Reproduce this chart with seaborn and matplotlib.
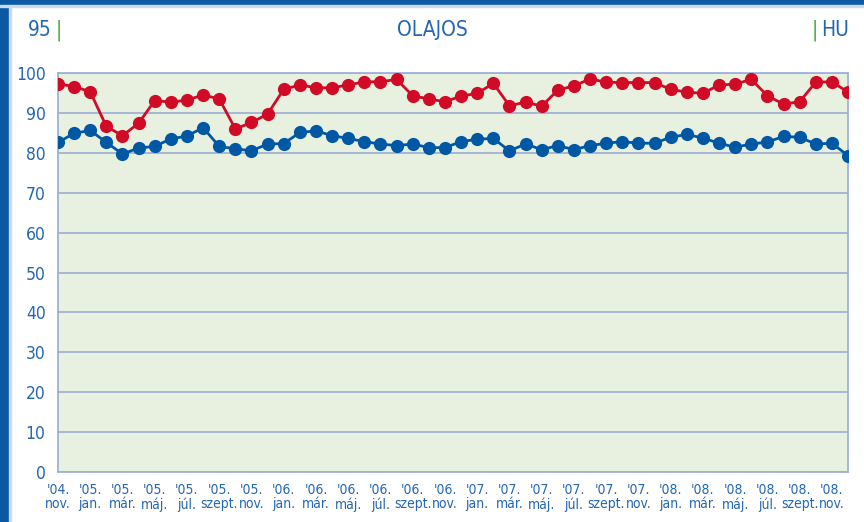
import numpy as np
import pandas as pd
import matplotlib
matplotlib.use("Agg")
import matplotlib.pyplot as plt
from matplotlib.patches import Rectangle
import seaborn as sns

# havi adatok, '04 nov. - '08 dec.
red_values = [97.3, 96.6, 95.3, 86.6, 84.3, 87.4, 93.1, 92.7, 93.2, 94.5,
              93.5, 86.0, 87.6, 89.7, 95.9, 97.0, 96.3, 96.3, 97.0, 97.8,
              97.8, 98.4, 94.3, 93.5, 92.8, 94.2, 94.9, 97.4, 91.8, 92.7,
              91.7, 95.7, 96.8, 98.5, 97.7, 97.6, 97.6, 97.6, 95.9, 95.2,
              94.9, 97.0, 97.2, 98.4, 94.3, 92.2, 92.8, 97.7, 97.8, 95.2]
blue_values = [82.6, 84.9, 85.6, 82.6, 79.7, 81.2, 81.6, 83.5, 84.2, 86.3,
               81.6, 81.0, 80.5, 82.2, 82.3, 85.1, 85.5, 84.3, 83.6, 82.8,
               82.2, 81.8, 82.2, 81.3, 81.3, 82.8, 83.4, 83.6, 80.5, 82.2,
               80.8, 81.8, 80.8, 81.8, 82.4, 82.8, 82.4, 82.4, 83.9, 84.6,
               83.7, 82.4, 81.4, 82.2, 82.7, 84.1, 83.9, 82.2, 82.4, 79.3]
tick_labels = ["'04.\nnov.",
               "'05.\njan.", "'05.\nmár.", "'05.\nmáj.", "'05.\njúl.", "'05.\nszept.", "'05.\nnov.",
               "'06.\njan.", "'06.\nmár.", "'06.\nmáj.", "'06.\njúl.", "'06.\nszept.", "'06.\nnov.",
               "'07.\njan.", "'07.\nmár.", "'07.\nmáj.", "'07.\njúl.", "'07.\nszept.", "'07.\nnov.",
               "'08.\njan.", "'08.\nmár.", "'08.\nmáj.", "'08.\njúl.", "'08.\nszept.", "'08.\nnov."]

months = np.arange(len(red_values))
df = pd.DataFrame({
    "honap": np.concatenate([months, months]),
    "ertek": red_values + blue_values,
    "sor": ["95"] * len(red_values) + ["HU"] * len(blue_values),
})

text_blue = "#2467b1"
sns.set_theme(style="white")
plt.rcParams["font.family"] = ["DejaVu Sans"]
plt.rcParams["font.stretch"] = "condensed"

fig = plt.figure(figsize=(8.64, 5.22), dpi=100)
ax = fig.add_axes([58 / 864, 1 - 472 / 522, 790 / 864, 399 / 522])

# keret
fig.patches.append(Rectangle((0, 0), 9 / 864, 1, transform=fig.transFigure,
                             color="#0b58a3", zorder=0))
fig.patches.append(Rectangle((9 / 864, 0), 2 / 864, 1, transform=fig.transFigure,
                             color="#c9d9ee", zorder=0))
fig.patches.append(Rectangle((0, 1 - 5 / 522), 1, 5 / 522, transform=fig.transFigure,
                             color="#0b58a3", zorder=0))
fig.patches.append(Rectangle((0, 1 - 7 / 522), 1, 2 / 522, transform=fig.transFigure,
                             color="#c9d9ee", zorder=0))

ax.set_facecolor("#e8f0e0")
sns.lineplot(data=df, x="honap", y="ertek", hue="sor",
             palette={"95": "#d10a25", "HU": "#0058a5"},
             marker="o", markersize=9.5, markeredgewidth=0, linewidth=2.0,
             legend=False, ax=ax, zorder=3)

ax.set_xlim(0, len(red_values) - 1)
ax.set_ylim(0, 100)
ax.set_yticks(range(0, 101, 10))
ax.set_xticks(months[::2][:len(tick_labels)])
ax.set_xticklabels(tick_labels, fontsize=10, color=text_blue, linespacing=1.0)
ax.tick_params(axis="y", labelsize=12.5, labelcolor=text_blue, length=4,
               color="#9fb2d6", width=1.3, pad=5)
ax.tick_params(axis="x", length=0, pad=8)
ax.yaxis.grid(True, color="#9fb2d6", linewidth=1.3)
ax.set_axisbelow(True)
for s in ax.spines.values():
    s.set_color("#9fb2d6")
    s.set_linewidth(1.3)
ax.set_xlabel("")
ax.set_ylabel("")

fig.text(0.5, 1 - 30 / 522, "OLAJOS", ha="center", va="center",
         fontsize=15, color=text_blue)
fig.text(52 / 864, 1 - 30 / 522, "95", ha="right", va="center",
         fontsize=15, color=text_blue)
fig.text(56 / 864, 1 - 30 / 522, "|", ha="left", va="center",
         fontsize=15, color="#3aaa35")
fig.text(812 / 864, 1 - 30 / 522, "|", ha="left", va="center",
         fontsize=15, color="#3aaa35")
fig.text(821 / 864, 1 - 30 / 522, "HU", ha="left", va="center",
         fontsize=15, color=text_blue)

fig.savefig("out.png", dpi=100)
